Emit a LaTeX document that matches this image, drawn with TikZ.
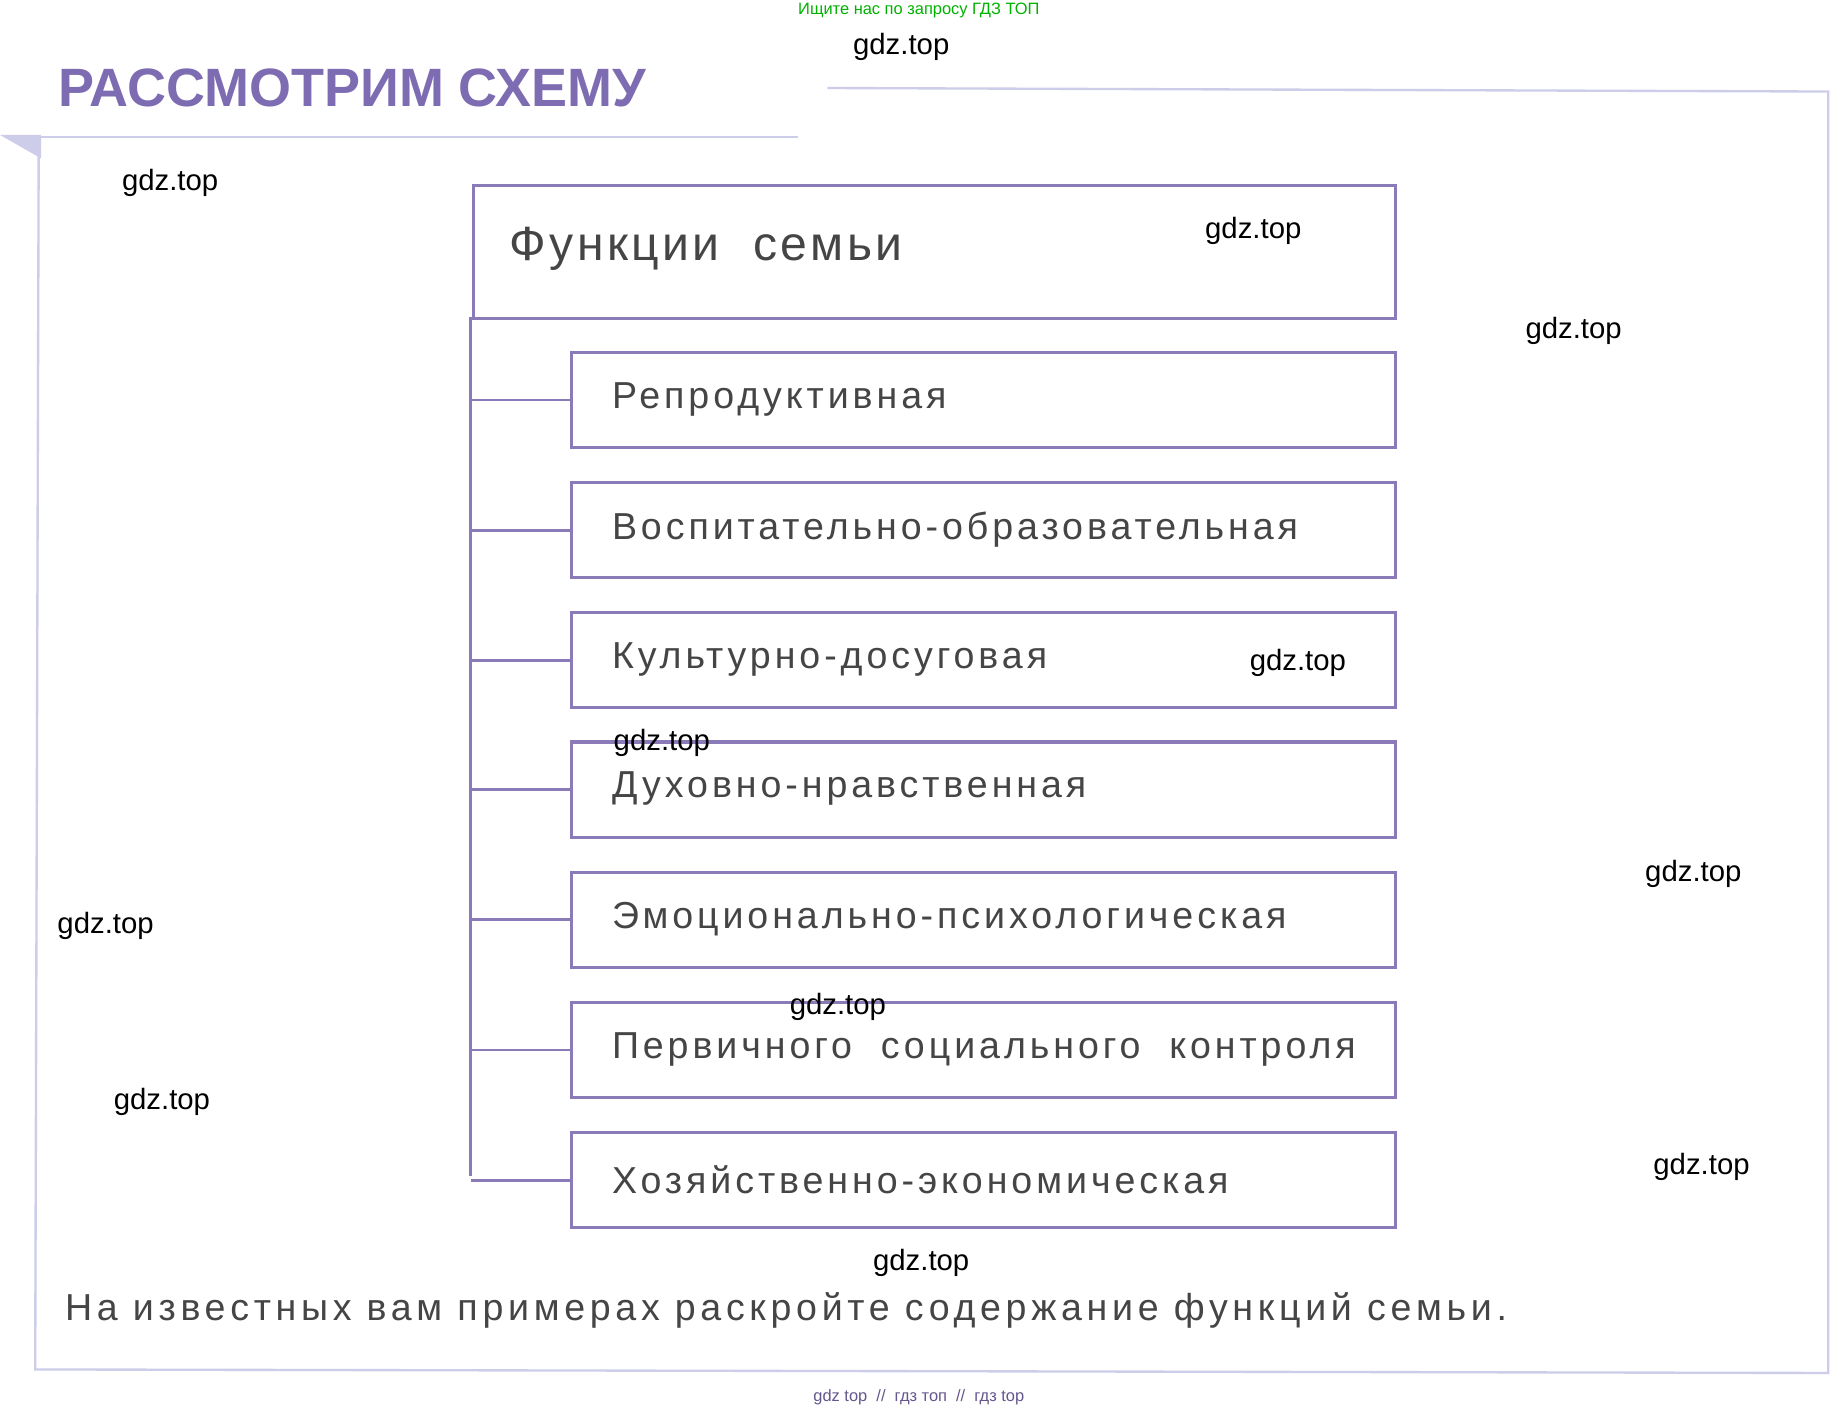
\documentclass[tikz,border=0pt]{standalone}
\usepackage{fontspec}
\setmainfont{Liberation Sans}
\newfontfamily\wide[LetterSpace=10.5]{Liberation Sans}
\newfontfamily\wideb[LetterSpace=12.5]{Liberation Sans}
\newfontfamily\widem[LetterSpace=7]{Liberation Sans}
\definecolor{pur}{HTML}{8A7BB8}
\definecolor{lav}{HTML}{CDCDEA}
\definecolor{tgray}{HTML}{454545}
\definecolor{ttl}{HTML}{7E6CB2}
\begin{document}
\begin{tikzpicture}[x=1pt,y=-1pt,
  box/.style={draw=pur,line width=2.6pt,minimum height=81pt,minimum width=702pt,anchor=north west,inner sep=0pt},
  lbl/.style={font=\wide\fontsize{32}{36}\selectfont,text=tgray,anchor=west},
  wm/.style={font=\fontsize{25}{28}\selectfont,text=black},
  conn/.style={draw=pur,line width=2.4pt}]
\useasboundingbox (0,0) rectangle (1568,1204);
\fill[white] (0,0) rectangle (1568,1204);
% outer frame
\draw[lav,line width=2pt] (705,75) -- (1558,78) -- (1558,1170) -- (30,1167) -- (33,118);
\draw[lav,line width=2pt] (35,117) -- (680,117);
\fill[lav] (0,115) -- (35,115) -- (35,135) -- cycle;
\node[anchor=west,font=\bfseries\fontsize{46}{50}\selectfont,text=ttl] (title) at (46,75) {РАССМОТРИМ\ СХЕМУ};
\node[font=\fontsize{14}{16}\selectfont,text=green!70!black] (ad) at (783,9) {Ищите нас по запросу ГДЗ ТОП};
% main box
\node[draw=pur,line width=2.6pt,minimum width=786pt,minimum height=113pt,anchor=north west,inner sep=0pt] (main) at (402,157) {};
\node[anchor=west,font=\widem\fontsize{41}{46}\selectfont,text=tgray] (mt) at (431,212) {Функции\ \ семьи};
% sub boxes
\foreach \i/\y/\t in {1/299/Репродуктивная,2/410/Воспитательно-образовательная,3/521/Культурно-досуговая,4/631/Духовно-нравственная,5/742/Эмоционально-психологическая,6/853/Первичного\ \ социального\ \ контроля,7/964/Хозяйственно-экономическая}{
  \node[box] (b\i) at (486,\y) {};
  \node[lbl] (t\i) at (518,\y+41) {\t};
}
\coordinate (top) at (401,270);
\coordinate (bot) at (401,1002);
\draw[conn] (top) -- (bot);
\foreach \i in {1,...,7}{\draw[conn] (b\i.west -| top) -- (b\i.west);}
\node[anchor=west,font=\wideb\fontsize{32}{36}\selectfont,text=tgray] (q) at (52,1117) {На известных вам примерах раскройте содержание функций семьи.};
\node[font=\fontsize{14}{16}\selectfont,text=ttl!80!black] (ft) at (783,1191) {gdz top\ \ //\ \ гдз топ\ \ //\ \ гдз top};
\foreach \x/\y [count=\k] in {768/40,145/156,1068/197,1341/282,1106/565,564/633,1443/745,90/789,714/858,138/939,1450/994,785/1076}{
  \node[wm] (w\k) at (\x,\y) {gdz.top};
}
\end{tikzpicture}
\end{document}
